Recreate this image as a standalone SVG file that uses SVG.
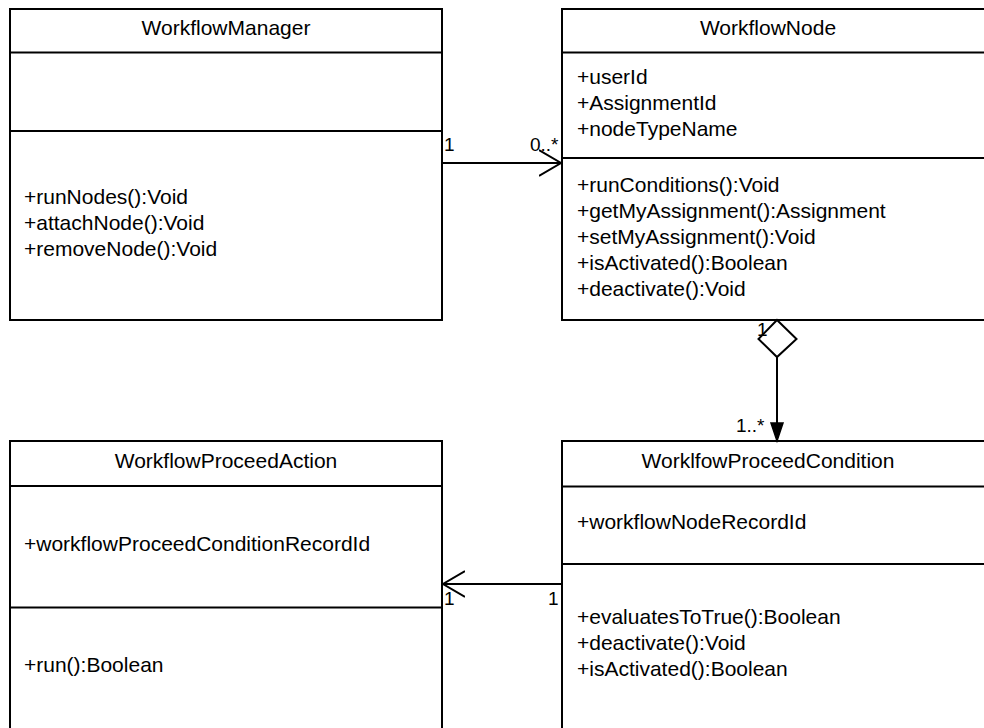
<svg xmlns="http://www.w3.org/2000/svg" width="984" height="728" viewBox="0 0 984 728">
<defs>
<style>
.box{fill:#fff;stroke:#000;stroke-width:2}
.ln{stroke:#000;stroke-width:2;fill:none}
text{font-family:"Liberation Sans",Arial,sans-serif;font-size:21px;fill:#000}
.t{text-anchor:middle}
.m{font-size:19px}
</style>
<marker id="open" viewBox="0 0 24 28" refX="22" refY="14" markerWidth="24" markerHeight="28" markerUnits="userSpaceOnUse" orient="auto">
<path d="M0,1 L22,14 L0,27" fill="none" stroke="#000" stroke-width="2"/>
</marker>
</defs>
<rect width="984" height="728" fill="#fff"/>
<g id="WorkflowManager">
<rect class="box" x="10" y="9" width="432" height="311"/>
<line class="ln" x1="10" y1="52.5" x2="442" y2="52.5"/>
<line class="ln" x1="10" y1="131" x2="442" y2="131"/>
<text class="t" x="226" y="35">WorkflowManager</text>
<text x="24" y="204">+runNodes():Void</text>
<text x="24" y="230">+attachNode():Void</text>
<text x="24" y="256">+removeNode():Void</text>
</g>
<g id="WorkflowNode">
<rect class="box" x="562" y="9" width="440" height="311"/>
<line class="ln" x1="562" y1="52.5" x2="1002" y2="52.5"/>
<line class="ln" x1="562" y1="158" x2="1002" y2="158"/>
<text class="t" x="768" y="35">WorkflowNode</text>
<text x="577" y="84">+userId</text>
<text x="577" y="110">+AssignmentId</text>
<text x="577" y="135.5">+nodeTypeName</text>
<text x="577" y="192">+runConditions():Void</text>
<text x="577" y="218">+getMyAssignment():Assignment</text>
<text x="577" y="244">+setMyAssignment():Void</text>
<text x="577" y="270">+isActivated():Boolean</text>
<text x="577" y="296">+deactivate():Void</text>
</g>
<g id="WorkflowProceedAction">
<rect class="box" x="10" y="441" width="432" height="300"/>
<line class="ln" x1="10" y1="486" x2="442" y2="486"/>
<line class="ln" x1="10" y1="607.5" x2="442" y2="607.5"/>
<text class="t" x="226" y="468">WorkflowProceedAction</text>
<text x="24" y="551">+workflowProceedConditionRecordId</text>
<text x="24" y="672">+run():Boolean</text>
</g>
<g id="WorklfowProceedCondition">
<rect class="box" x="562" y="441" width="440" height="300"/>
<line class="ln" x1="562" y1="486.5" x2="1002" y2="486.5"/>
<line class="ln" x1="562" y1="564" x2="1002" y2="564"/>
<text class="t" x="768" y="468">WorklfowProceedCondition</text>
<text x="577" y="529">+workflowNodeRecordId</text>
<text x="577" y="624">+evaluatesToTrue():Boolean</text>
<text x="577" y="650">+deactivate():Void</text>
<text x="577" y="676">+isActivated():Boolean</text>
</g>
<g id="connectors">
<line class="ln" x1="442" y1="163" x2="561" y2="163" marker-end="url(#open)"/>
<text class="m" x="444" y="151">1</text>
<text class="m" x="530" y="151">0..*</text>
<path class="ln" d="M777,320 L796.5,339 L777,357 L758.5,339 Z"/>
<line class="ln" x1="777" y1="357" x2="777" y2="424"/>
<path d="M771,423 L783,423 L777,441 Z" fill="#000" stroke="#000" stroke-width="1.5"/>
<text class="m" x="757" y="336">1</text>
<text class="m" x="736" y="432">1..*</text>
<line class="ln" x1="562" y1="584" x2="443" y2="584" marker-end="url(#open)"/>
<text class="m" x="444" y="605">1</text>
<text class="m" x="548" y="605">1</text>
</g>
</svg>
